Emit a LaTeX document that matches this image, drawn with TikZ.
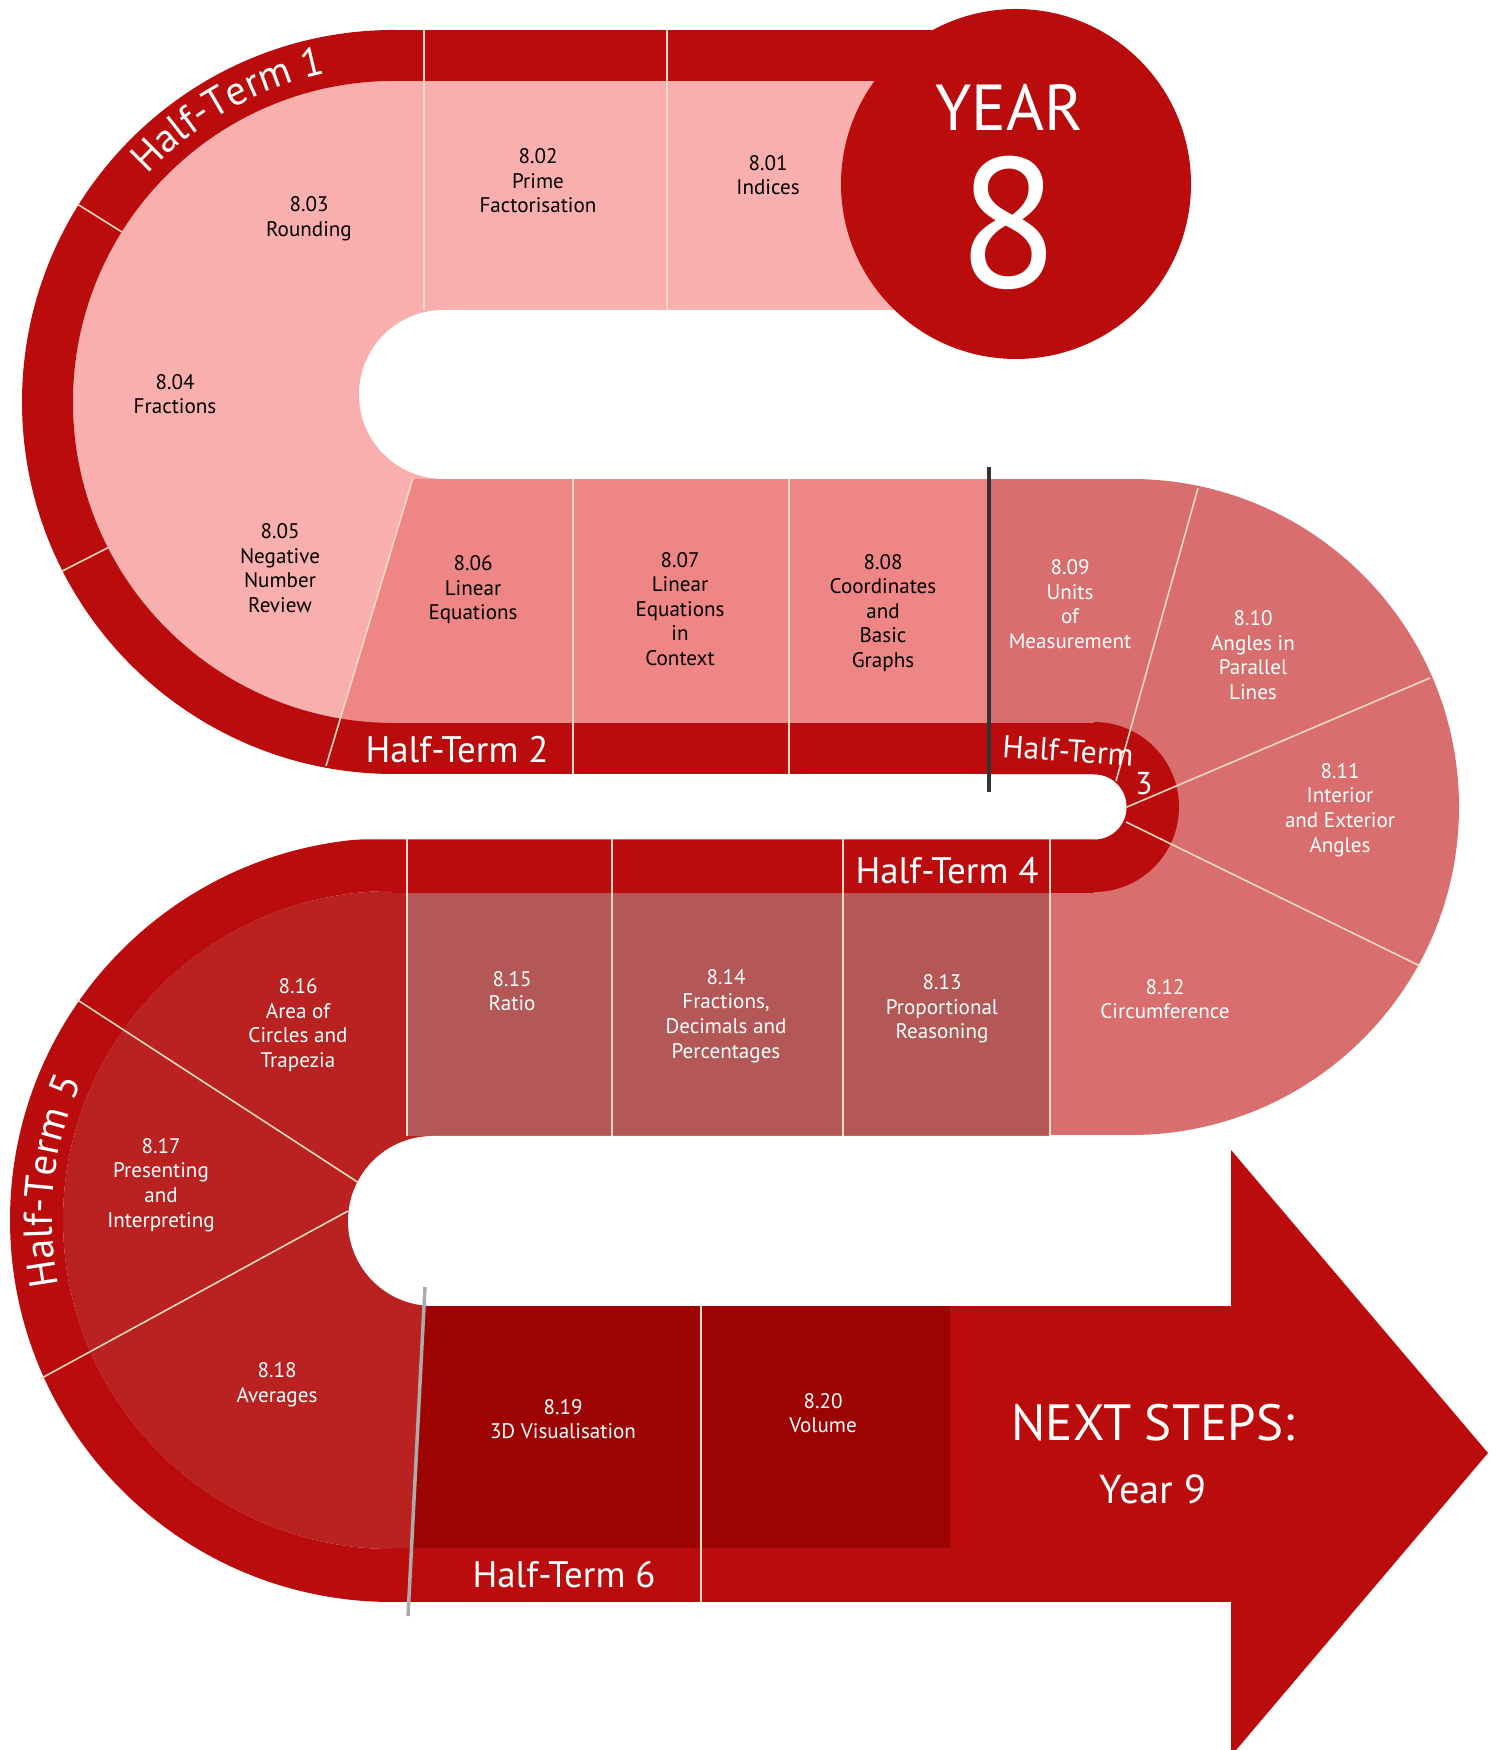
\documentclass[tikz,border=0pt]{standalone}
\usepackage{fontspec}
\setmainfont{PT Sans}
\usetikzlibrary{decorations.text}
\definecolor{rd}{HTML}{BA0C0C}
\definecolor{pa}{HTML}{FAAFAF}
\definecolor{pb}{HTML}{EF8686}
\definecolor{pc}{HTML}{D86E6E}
\definecolor{pd}{HTML}{B35757}
\definecolor{pe}{HTML}{BA2222}
\definecolor{pf}{HTML}{9E0303}
\definecolor{sepc}{HTML}{F2D9C4}
\newcommand\htfmt{\fontsize{23}{23}\selectfont\color{white}}
\begin{document}
\begin{tikzpicture}[x=0.02cm,y=0.02cm,
  sepline/.style={draw=sepc,line width=0.9pt},
  lab/.style={align=center,inner sep=0pt,font=\fontsize{12}{14}\selectfont},
  blk/.style={lab,text=black},
  wht/.style={lab,text=white},
  htlab/.style={inner sep=0pt,text=white,font=\fontsize{21}{21}\selectfont}]
\useasboundingbox (0,0) rectangle (1499,1750);
\clip (0,0) rectangle (1499,1750);
\fill[white] (0,0) rectangle (1499,1750);
% coloured regions
\fill[pa] (989,1669) -- (394,1669) arc[start angle=90,end angle=270,radius=321] -- (989,1027) -- cycle;
\fill[pb] (413,1271) -- (989,1271) -- (989,1027) -- (339,1027) -- cycle;
\fill[pc] (989,1271) -- (1131,1271) arc[start angle=90,end angle=-90,radius=328] -- (1050,615) -- (1050,943) -- (989,943) -- cycle;
\fill[pe] (430,859) -- (392,859) arc[start angle=90,end angle=270,radius=329] -- (430,201) -- cycle;
\fill[pd] (407,614) rectangle (1050,857);
\fill[pf] (424,444) -- (950,444) -- (950,201) -- (411,201) -- cycle;
% red bands
\fill[rd] (394,1669) rectangle (960,1720);
\fill[rd] (394,1720) arc[start angle=90,end angle=270,radius=372] -- (394,1027) arc[start angle=270,end angle=90,radius=321] -- cycle;
\fill[rd] (394,976) rectangle (1094,1027);
\fill[rd] (1094,1028) arc[start angle=90,end angle=-90,radius=85] -- (1094,910.5) arc[start angle=-90,end angle=90,radius=32.5] -- cycle;
\fill[rd] (392,857) rectangle (1094,911);
\fill[rd] (392,912) arc[start angle=90,end angle=270,radius=382] -- (392,201) arc[start angle=270,end angle=90,radius=329] -- cycle;
\fill[rd] (392,148) rectangle (1231,201.5);
% white gaps
\fill[white] (1499,1271) -- (443.5,1271) arc[start angle=270,end angle=90,radius=84.5] -- (1499,1440) -- cycle;
\fill[white] (0,910.5) -- (1094,910.5) arc[start angle=-90,end angle=90,radius=32.5] -- (0,975.5) -- cycle;
\fill[white] (1499,444) -- (433,444) arc[start angle=270,end angle=90,radius=85] -- (1499,614) -- cycle;
% arrow
\fill[rd] (950,148) rectangle (1231,444);
\fill[rd] (1231,600) -- (1488,297) -- (1231,-6) -- cycle;
% separators
\draw[sepline] (424,1440) -- (424,1720);
\draw[sepline] (667,1440) -- (667,1720);
\draw[sepline] (394,1348) ++(148:321) -- ++(148:51);
\draw[sepline] (394,1348) ++(207:321) -- ++(207:51);
\draw[sepline] (413,1272) -- (326,984);
\draw[sepline] (573,976) -- (573,1271);
\draw[sepline] (789,976) -- (789,1271);
\draw[sepline] (1198,1262) -- (1116,969);
\draw[sepline] (1430,1072) -- (1127,943);
\draw[sepline] (1126,928) -- (1420,784);
\draw[sepline] (407,614) -- (407,911);
\draw[sepline] (612,614) -- (612,911);
\draw[sepline] (843,614) -- (843,911);
\draw[sepline] (1050,614) -- (1050,911);
\draw[sepline] (76,751) -- (359,567);
\draw[sepline] (40,371) -- (348,539);
\draw[sepline] (701,148) -- (701,444);
\draw[line width=2pt,color=black!80] (989,958) -- (989,1283);
\draw[line width=2pt,color=black!33] (425,463) -- (408,134);
% year circle
\fill[rd] (1016,1566) circle[radius=175];
\node[text=white,inner sep=0pt,font=\fontsize{37}{37}\selectfont] (year) at (1009,1643) {YEAR};
\node[text=white,inner sep=0pt,font=\fontsize{105}{105}\selectfont] (eight) at (1009,1527) {8};
% half-term labels
\path[decorate,decoration={text along path,text align=center,text={|\htfmt|Half-Term 1}}] (394,1348) ++(139:335) arc[start angle=139,end angle=100,radius=335];
\path[decorate,decoration={text along path,text align=center,text={|\htfmt|Half-Term 5}}] (392,530) ++(192:340) arc[start angle=192,end angle=155,radius=340];
\node[htlab] (ht2) at (457,1000) {Half-Term 2};
\node[htlab,font=\fontsize{18}{18}\selectfont,rotate=-4] (ht3a) at (1068,999) {Half-Term};
\node[htlab,font=\fontsize{18}{18}\selectfont] (ht3b) at (1144,966) {3};
\node[htlab] (ht4) at (947,879) {Half-Term 4};
\node[htlab] (ht6) at (564,175) {Half-Term 6};
% topics
\node[blk] (t801) at (768,1575) {8.01\\Indices};
\node[blk] (t802) at (538,1569) {8.02\\Prime\\Factorisation};
\node[blk] (t803) at (309,1531) {8.03\\Rounding};
\node[blk] (t804) at (175,1356) {8.04\\Fractions};
\node[blk] (t805) at (280,1182) {8.05\\Negative\\Number\\Review};
\node[blk] (t806) at (473,1160) {8.06\\Linear\\Equations};
\node[blk] (t807) at (680,1141) {8.07\\Linear\\Equations\\in\\Context};
\node[blk] (t808) at (883,1137) {8.08\\Coordinates\\and\\Basic\\Graphs};
\node[wht] (t809) at (1070,1146) {8.09\\Units\\of\\Measurement};
\node[wht] (t810) at (1253,1095) {8.10\\Angles in\\Parallel\\Lines};
\node[wht] (t811) at (1340,940) {8.11\\Interior\\and Exterior\\Angles};
\node[wht] (t812) at (1165,751) {8.12\\Circumference};
\node[wht] (t813) at (942,741) {8.13\\Proportional\\Reasoning};
\node[wht] (t814) at (726,734) {8.14\\Fractions,\\Decimals and\\Percentages};
\node[wht] (t815) at (512,759) {8.15\\Ratio};
\node[wht] (t816) at (298,725) {8.16\\Area of\\Circles and\\Trapezia};
\node[wht] (t817) at (161,565) {8.17\\Presenting\\and\\Interpreting};
\node[wht] (t818) at (277,365) {8.18\\Averages};
\node[wht] (t819) at (563,331) {8.19\\3D Visualisation};
\node[wht] (t820) at (823,337) {8.20\\Volume};
\node[text=white,inner sep=0pt,font=\fontsize{29}{29}\selectfont] (next) at (1153,327) {NEXT STEPS:};
\node[text=white,inner sep=0pt,font=\fontsize{23}{23}\selectfont] (y9) at (1153,261) {Year 9};
\end{tikzpicture}
\end{document}
